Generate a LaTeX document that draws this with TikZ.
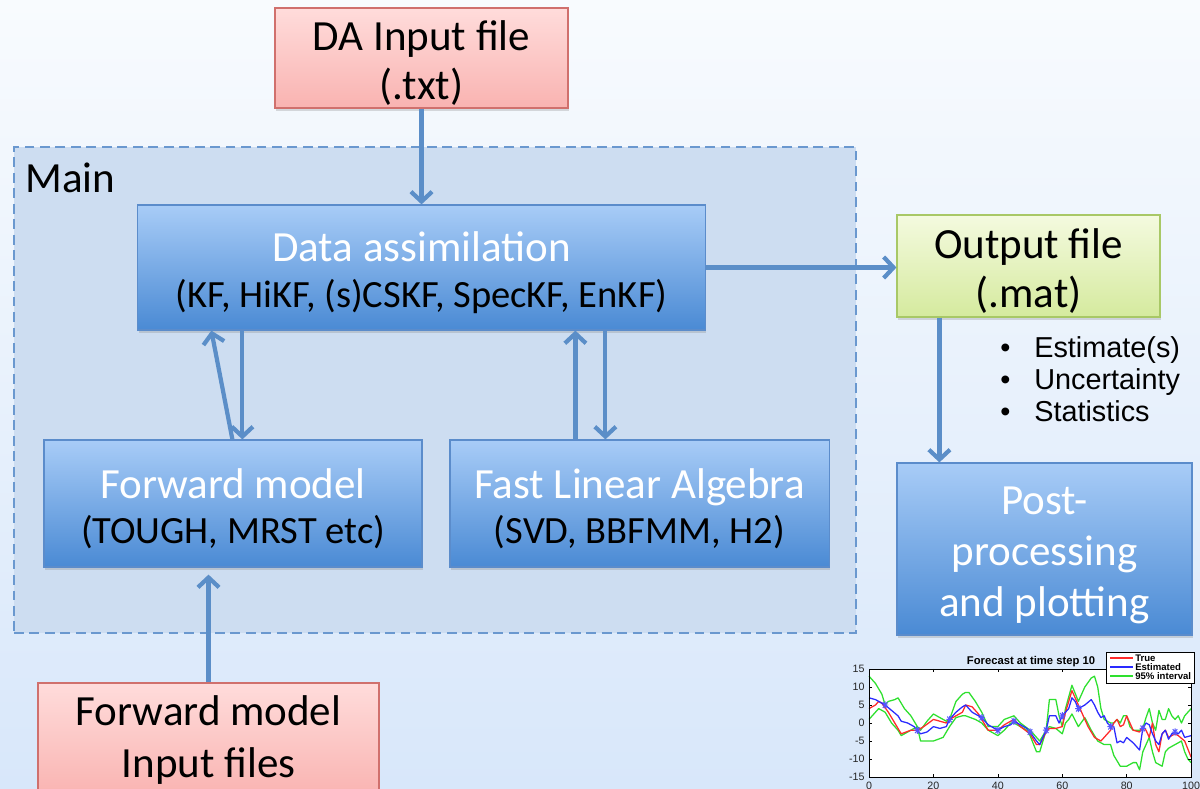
\documentclass[tikz,border=0pt]{standalone}
\usepackage{fontspec}
\setmainfont{Carlito}
\newfontfamily\arialfont{Liberation Sans}
\usetikzlibrary{arrows.meta,shadows,calc}
\definecolor{bgtop}{HTML}{F8FBFE}
\definecolor{bgbot}{HTML}{D8E7FA}
\definecolor{mainfill}{HTML}{CDDDF1}
\definecolor{dashblue}{HTML}{6A98CF}
\definecolor{bluetop}{HTML}{A8CCF7}
\definecolor{bluebot}{HTML}{4A8AD4}
\definecolor{blueborder}{HTML}{5B8CCB}
\definecolor{pinktop}{HTML}{FFDCDB}
\definecolor{pinkbot}{HTML}{F9B3B1}
\definecolor{pinkborder}{HTML}{D0706D}
\definecolor{greentop}{HTML}{F4FADF}
\definecolor{greenbot}{HTML}{D5EA9E}
\definecolor{greenborder}{HTML}{A8C866}
\definecolor{arrowblue}{HTML}{5B8EC8}
\definecolor{plred}{HTML}{FF2A2A}
\definecolor{plblue}{HTML}{2A2AFF}
\definecolor{plgreen}{HTML}{2EE02E}
\newcommand\dgbigA{\fontsize{30.6}{35}\selectfont}
\newcommand\dgbigB{\fontsize{30.6}{32.5}\selectfont}
\newcommand\dgbigC{\fontsize{30.6}{36.5}\selectfont}
\newcommand\dgsmall{\fontsize{27.4}{31.5}\selectfont}
\newcommand\tstrut{\rule{0pt}{28.5pt}}
\begin{document}
\begin{tikzpicture}[x=0.025cm,y=-0.025cm,
  shad/.style={drop shadow={opacity=0.28,shadow xshift=0.8pt,shadow yshift=-1.8pt}},
  basebox/.style={rectangle,line width=0.8pt,shad,align=center,inner sep=0pt},
  pinkbox/.style={basebox,draw=pinkborder,top color=pinktop,bottom color=pinkbot,font=\dgbigA,text=black},
  greenbox/.style={basebox,draw=greenborder,top color=greentop,bottom color=greenbot,font=\dgbigA,text=black},
  bluebox/.style={basebox,draw=blueborder,top color=bluetop,bottom color=bluebot,font=\dgbigB,text=black},
  mainbox/.style={rectangle,draw=dashblue,fill=mainfill,line width=1.3pt,dash pattern=on 7pt off 4pt},
  arr/.style={draw=arrowblue,line width=3pt,-{Straight Barb[length=7pt,width=15pt]}},
  bul/.style={font=\arialfont\fontsize{20.5}{24}\selectfont,anchor=base west,inner sep=0pt},
  tick/.style={line width=0.4pt,black},
  ticklab/.style={font=\arialfont\fontsize{7.6}{9}\selectfont,inner sep=0pt,text=black!85},
  leglab/.style={font=\arialfont\bfseries\fontsize{6.8}{8}\selectfont,inner sep=0pt,anchor=west},
  curve/.style={line width=0.9pt,line join=round}
]
\useasboundingbox (0,0) rectangle (1200,788);
\shade[top color=bgtop,bottom color=bgbot] (0,0) rectangle (1200,788);

% main container
\node[mainbox,minimum width=21.05cm,minimum height=12.15cm] (main) at (435,390) {};
\node[font=\dgbigA,anchor=base west,inner sep=0pt] (mainlab) at (25,192) {Main};

% boxes
\node[pinkbox,minimum width=7.325cm,minimum height=2.5cm] (dain) at (421.5,58) {\tstrut DA Input file\\(.txt)};
\node[bluebox,minimum width=14.175cm,minimum height=3.125cm] (da) at (421.5,267.5)
  {{\color{white}\tstrut Data assimilation}\\{\dgsmall (KF, HiKF, (s)CSKF, SpecKF, EnKF)}};
\node[bluebox,minimum width=9.45cm,minimum height=3.175cm] (fm) at (233,503.5)
  {{\color{white}\tstrut Forward model}\\{\dgsmall (TOUGH, MRST etc)}};
\node[bluebox,minimum width=9.475cm,minimum height=3.175cm] (fla) at (639.5,503.5)
  {{\color{white}\tstrut Fast Linear Algebra}\\{\dgsmall (SVD, BBFMM, H2)}};
\node[greenbox,minimum width=6.575cm,minimum height=2.55cm] (out) at (1028.5,266) {\tstrut Output file\\(.mat)};
\node[bluebox,font=\dgbigC,text=white,minimum width=7.375cm,minimum height=4.3cm] (post) at (1044.5,549)
  {\tstrut Post-\\processing\\and plotting};
\node[pinkbox,font=\dgbigC,minimum width=8.525cm,minimum height=2.85cm] (fmi) at (208.5,740) {Forward model\\Input files};

% bullets
\node[bul] (b1) at (1000,357) {\makebox[24.2pt][l]{•}Estimate(s)};
\node[bul] (b2) at (1000,389) {\makebox[24.2pt][l]{•}Uncertainty};
\node[bul] (b3) at (1000,421) {\makebox[24.2pt][l]{•}Statistics};

% connectors
\draw[arr] (dain.south) -- (dain.south |- da.north);
\draw[arr] (da.east) -- (da.east -| out.west);
\coordinate (o1) at ($(out.south west)+(43,0)$);
\draw[arr] (o1) -- (o1 |- post.north);
\coordinate (fmA) at ($(fm.north west)+(189,0)$);
\coordinate (daA) at ($(da.south west)+(74,0)$);
\draw[arr] (fmA) -- (daA);
\coordinate (daB) at ($(da.south west)+(105,0)$);
\draw[arr] (daB) -- (daB |- fm.north);
\coordinate (flaA) at ($(fla.north west)+(126,0)$);
\draw[arr] (flaA) -- (flaA |- da.south);
\coordinate (daC) at ($(da.south west)+(468,0)$);
\draw[arr] (daC) -- (daC |- fla.north);
\draw[arr,shorten >=5pt] (fmi.north) -- (fmi.north |- fm.south);

% plot
\node[font=\arialfont\bfseries\fontsize{8}{9}\selectfont,inner sep=0pt] (ptitle) at (1031,662) {Forecast at time step 10};
\begin{scope}[shift={(869,723)},x=0.0805cm,y=0.09cm]
  \fill[white] (0,-15) rectangle (100,15);
  \draw[curve,plgreen] plot coordinates {(0,13) (2,11) (4,8) (5,5) (6,6) (8,6.5) (9,7) (11,4) (13,2) (15,-1) (16,-2) (18,0.5) (20,2.5) (22,1.5) (24,0.5) (25,1) (27,6) (29,8) (30,8.5) (31,8.5) (33,6) (35,3) (37,-1) (40,-1) (42,1) (45,2) (47,0) (50,-2) (52,-4) (53,-5) (55,-2) (56,6.5) (58,6.5) (59,2) (60,-1) (61,4) (63,10.5) (65,6) (67,10) (69,12.5) (70,13) (71,10) (72,4) (73,1) (75,0) (76,0) (77,1) (78,0) (79,2) (80,2) (81,-1) (82,-2) (84,-2) (85,-1.5) (86,1.5) (87,4) (88,0) (89,-2) (90,3.5) (91,1) (92,1) (93,4) (94,2) (95,1) (96,2) (97,0) (98,2) (100,4)};
  \draw[curve,plgreen] plot coordinates {(0,1) (2,3) (3,4) (5,3) (7,0) (9,-2) (10,-3.5) (12,-2.5) (14,-1.5) (15,-1) (16,-5) (18,-5) (20,-5) (23,-4) (25,-1) (27,1.5) (29,2) (30,2) (33,1) (35,0) (37,-2) (40,-3.5) (42,-2) (44,0) (45,0) (47,-1) (49,-2) (50,-3.5) (52,-8) (53,-8) (55,-2) (56,-1) (58,-1.5) (60,-3) (61,0) (62,1) (63,2.5) (65,-1) (67,1.5) (69,-2) (71,-5) (73,-6) (75,-6) (76,-9) (78,-12) (80,-12) (82,-11) (83,-11) (84,-13) (85,-8) (86,-6) (87,-4) (88,-8) (89,-11) (91,-12) (92,-8) (93,-7) (95,-6) (97,-5) (98,-8) (99,-10) (100,-11)};
  \draw[curve,plred] plot coordinates {(0,4) (2,5) (3,6) (4,5.5) (6,3) (8,0) (10,-3) (13,-2) (15,-2) (17,-1) (20,1) (22,0.5) (24,0) (25,1) (27,2) (29,3) (30,5) (32,4.5) (34,2.5) (35,1) (37,-2) (40,-2) (42,-0.5) (44,0.5) (45,1) (47,-1) (50,-3) (52,-6) (53,-6) (55,-2.5) (56,-1.5) (58,-1.5) (60,-1) (61,3) (63,9) (65,5) (67,1) (68,-1) (70,-4) (72,-5) (74,-3) (75,-2) (76,0) (77,1) (78,-1) (79,-0.5) (80,2) (81,0) (82,-2) (84,-2.5) (85,-1) (86,-2) (87,-4) (88,0) (89,-6) (90,-8) (91,-3) (92,-2) (93,-4) (95,-3) (96,-3.5) (98,-5) (100,-9.5)};
  \draw[curve,plblue] plot coordinates {(0,7) (2,6.5) (5,5) (7,3.5) (9,2) (10,0.5) (12,0) (14,-1) (15,-2) (16,-3) (18,-2.5) (20,-1) (22,-1.5) (24,-1) (25,1) (27,3) (29,4.5) (30,5) (32,3) (34,2) (35,1.5) (37,-0.5) (40,-2) (42,-1) (44,-0.5) (45,0.5) (47,-0.5) (49,-1.5) (50,-2.5) (52,-5) (53,-6) (55,-2) (56,2) (58,2) (59,0) (60,2) (62,4) (63,7) (64,6) (65,4) (67,5) (69,6.5) (70,5) (71,3) (72,1.5) (73,2) (74,0) (75,-1) (76,-1) (77,-5.5) (78,-5) (79,-5.5) (80,-4) (82,-5.5) (84,-7.5) (85,-1.5) (86,0) (87,-0.5) (88,-3) (89,-5) (90,-6) (91,-3) (92,-2) (93,-4.5) (94,-3) (95,-2.5) (96,-3) (97,-2) (98,-4) (100,-3.5)};
  \foreach \mx/\my in {5/5,15/-2,25/1,35/1.5,40/-2,45/0.5,50/-2.5,55/-2,60/2,65/4,75/-1,85/-1.5,95/-2.5}{
    \draw[plblue!80,line width=0.7pt] (\mx-1,\my) -- (\mx+1,\my) (\mx,\my-1) -- (\mx,\my+1)
      (\mx-0.7,\my-0.8) -- (\mx+0.7,\my+0.8) (\mx-0.7,\my+0.8) -- (\mx+0.7,\my-0.8);
  }
  \draw[tick] (0,-15) rectangle (100,15);
  \foreach \v in {-15,-10,...,15}{
    \draw[tick] (0,\v) -- (1,\v) (100,\v) -- (99,\v);
    \node[ticklab,anchor=east] (yl\v) at (-1.3,\v) {\v};
  }
  \foreach \v in {0,20,...,100}{
    \draw[tick] (\v,-15) -- (\v,-14.2) (\v,15) -- (\v,14.2);
    \node[ticklab,anchor=north] (xl\v) at (\v,-16.4) {\v};
  }
\end{scope}
% legend
\draw[line width=0.5pt,fill=white] (1106,652) rectangle (1194,683);
\coordinate (lg1) at (1110,658);
\coordinate (lg2) at (1110,667);
\coordinate (lg3) at (1110,676);
\draw[curve,plred] (lg1) -- ++(23,0);
\draw[curve,plblue] (lg2) -- ++(23,0);
\draw[curve,plgreen] (lg3) -- ++(23,0);
\node[leglab] (lt1) at (1135,658) {True};
\node[leglab] (lt2) at (1135,667) {Estimated};
\node[leglab] (lt3) at (1135,676) {95\% interval};
\end{tikzpicture}
\end{document}
